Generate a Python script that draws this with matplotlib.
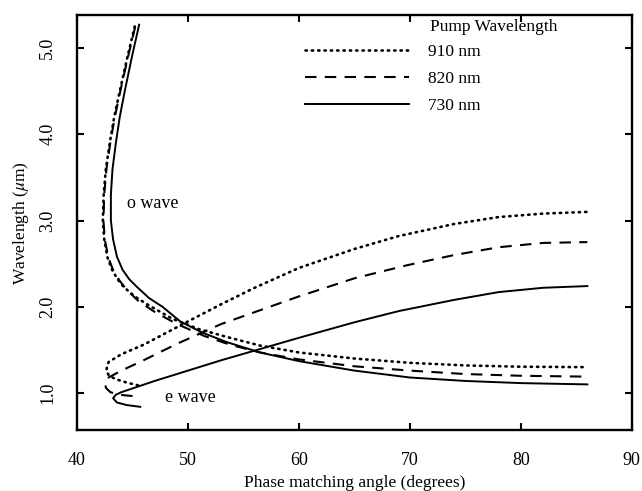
import numpy as np
import matplotlib.pyplot as plt

plt.rcParams['font.family'] = ['Liberation Serif', 'DejaVu Serif']
plt.rcParams['mathtext.fontset'] = 'stix'

# phase matching angle (degrees) vs wavelength (um)
# o wave branches
o910_angle = [45.2, 44.55, 43.85, 43.35, 42.95, 42.6, 42.4, 42.33, 42.45, 42.75, 43.15, 43.65,
              44.2, 45.2, 46.3, 48.6, 51.0, 53.5, 56.5, 60.0, 65.0, 70.0, 75.0, 80.0, 86.0]
o910_wl = [5.25, 4.90, 4.50, 4.20, 3.90, 3.60, 3.30, 3.00, 2.78, 2.57, 2.43, 2.32,
           2.23, 2.12, 2.03, 1.86, 1.74, 1.65, 1.55, 1.47, 1.40, 1.35, 1.32, 1.305, 1.30]

o820_angle = [45.25, 44.6, 43.9, 43.4, 43.0, 42.65, 42.45, 42.38, 42.5, 42.85, 43.3, 43.85,
              44.45, 45.5, 47.0, 49.0, 51.5, 53.8, 56.5, 60.0, 65.0, 70.0, 75.0, 80.0, 86.0]
o820_wl = [5.25, 4.90, 4.50, 4.20, 3.90, 3.60, 3.30, 3.00, 2.78, 2.56, 2.41, 2.30,
           2.20, 2.07, 1.94, 1.80, 1.66, 1.56, 1.47, 1.39, 1.31, 1.26, 1.22, 1.20, 1.19]

o730_angle = [45.6, 44.95, 44.3, 43.85, 43.5, 43.2, 43.05, 43.05, 43.25, 43.6, 44.1, 44.7,
              45.4, 46.5, 47.7, 49.3, 51.3, 53.5, 56.5, 60.0, 65.0, 70.0, 75.0, 80.0, 86.0]
o730_wl = [5.27, 4.90, 4.50, 4.20, 3.90, 3.60, 3.30, 3.00, 2.78, 2.58, 2.43, 2.32,
           2.23, 2.10, 2.00, 1.83, 1.70, 1.59, 1.47, 1.37, 1.26, 1.18, 1.14, 1.115, 1.10]

# e wave branches
e910_angle = [45.5, 44.5, 43.5, 42.9, 42.65, 42.7, 42.85, 44.0, 46.0, 50.0, 53.0, 56.0,
              60.0, 65.0, 69.0, 74.0, 78.0, 82.0, 86.0]
e910_wl = [1.09, 1.12, 1.16, 1.20, 1.25, 1.31, 1.36, 1.45, 1.56, 1.83, 2.03, 2.22,
           2.45, 2.67, 2.82, 2.96, 3.04, 3.08, 3.10]

e820_angle = [45.0, 43.8, 43.0, 42.6, 42.55, 42.7, 44.0, 46.0, 49.0, 53.0, 56.5,
              60.0, 65.0, 69.7, 74.0, 78.0, 82.0, 86.0]
e820_wl = [0.965, 0.98, 1.01, 1.06, 1.11, 1.17, 1.26, 1.38, 1.57, 1.80, 1.96,
           2.12, 2.33, 2.48, 2.60, 2.69, 2.74, 2.75]

e730_angle = [45.7, 44.5, 43.6, 43.25, 43.5, 44.0, 47.0, 50.0, 53.0, 56.5,
              60.0, 65.0, 69.0, 74.0, 78.0, 82.0, 86.0]
e730_wl = [0.84, 0.86, 0.89, 0.94, 0.98, 1.01, 1.14, 1.26, 1.38, 1.51,
           1.64, 1.82, 1.95, 2.08, 2.17, 2.22, 2.24]

xticks = [40, 50, 60, 70, 80, 90]
yticks = [1.0, 2.0, 3.0, 4.0, 5.0]
pump_labels = ['910 nm', '820 nm', '730 nm']

fig = plt.figure(figsize=(6.42, 4.91), dpi=100)
ax = fig.add_axes([0.12, 0.124, 0.864, 0.845])

dot = dict(color='black', lw=1.9, linestyle=(0, (0.5, 1.9)), dash_capstyle='round')
dash = dict(color='black', lw=1.5, linestyle=(0, (5.5, 4)))
solid = dict(color='black', lw=1.4)

ax.plot(o910_angle, o910_wl, **dot)
ax.plot(o820_angle, o820_wl, **dash)
ax.plot(o730_angle, o730_wl, **solid)
l1, = ax.plot(e910_angle, e910_wl, **dot)
l2, = ax.plot(e820_angle, e820_wl, **dash)
l3, = ax.plot(e730_angle, e730_wl, **solid)

ax.set_xlim(40, 90)
ax.set_ylim(0.57, 5.38)
ax.set_xticks(xticks)
ax.set_xticklabels([str(t) for t in xticks])
ax.set_yticks(yticks)
ax.set_yticklabels(['%.1f' % t for t in yticks], rotation=90, va='center')
ax.tick_params(direction='in', length=5, width=1.5, top=True, right=True, labelsize=13)
ax.tick_params(axis='x', pad=16)
ax.tick_params(axis='y', pad=15)
for s in ax.spines.values():
    s.set_linewidth(1.7)

ax.set_xlabel('Phase matching angle (degrees)', fontsize=12.5, labelpad=4)
ax.set_ylabel('Wavelength ($\\mu$m)', fontsize=12.5, labelpad=6)

ax.text(46.8, 3.2, 'o wave', fontsize=13, ha='center', va='center')
ax.text(50.2, 0.95, 'e wave', fontsize=13, ha='center', va='center')

ax.legend([l1, l2, l3], pump_labels, loc='upper left', bbox_to_anchor=(0.411, 0.93),
          frameon=False, fontsize=12.5, handlelength=6.0, handletextpad=1.1,
          labelspacing=0.62, borderpad=0, borderaxespad=0)
ax.text(0.636, 0.972, 'Pump Wavelength', transform=ax.transAxes, fontsize=12.5,
        ha='left', va='center')

fig.savefig('out.png', dpi=100)
